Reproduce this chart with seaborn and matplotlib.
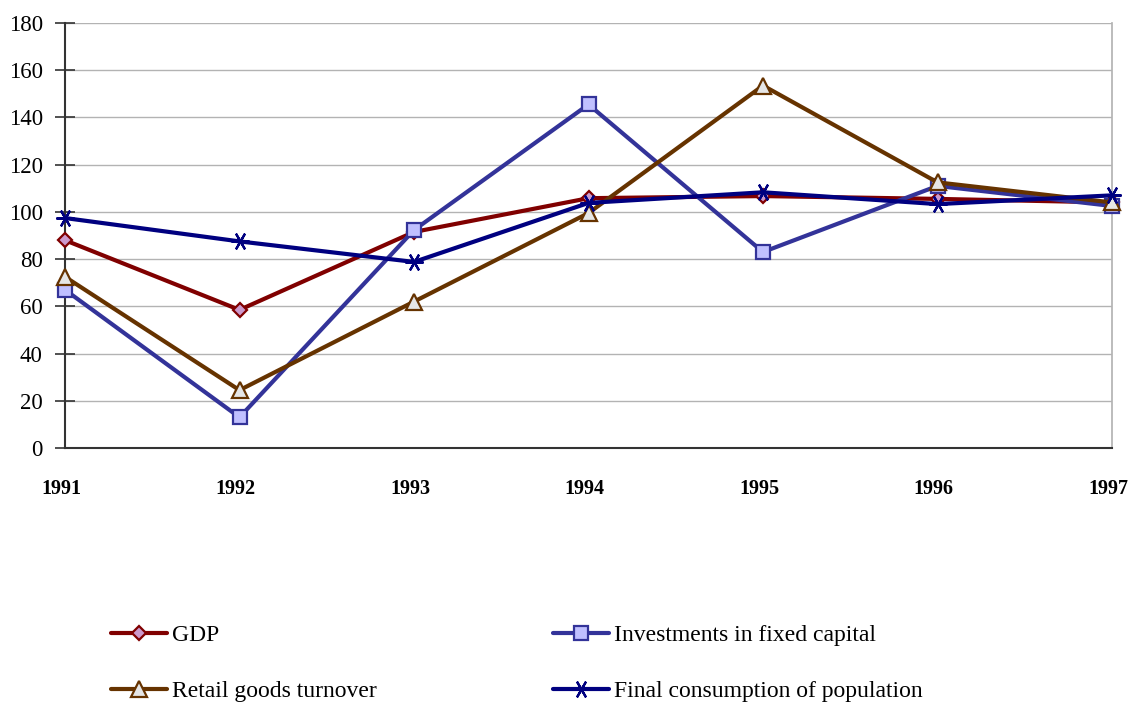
import pandas as pd
import matplotlib.pyplot as plt
import matplotlib.transforms as mtransforms
import seaborn as sns

sns.set_theme(style="white")
plt.rcParams["font.family"] = ["Liberation Serif", "DejaVu Serif"]
plt.rcParams["text.color"] = "black"
plt.rcParams["xtick.color"] = "black"
plt.rcParams["ytick.color"] = "black"

# ── Data ─────────────────────────────────────────────────────────────────────
years = [1991, 1992, 1993, 1994, 1995, 1996, 1997]
gdp = [88, 58.5, 91.5, 105.8, 106.7, 105.5, 104]
investments = [67, 13, 92.3, 145.5, 83, 111, 102.5]
retail = [72.5, 24.5, 62, 99.5, 153.5, 112.5, 104]
consumption = [97.4, 87.5, 78.8, 103.8, 108.3, 103.3, 107]

df = pd.DataFrame({
    "year": years,
    "GDP": gdp,
    "Investments in fixed capital": investments,
    "Retail goods turnover": retail,
    "Final consumption of population": consumption,
})

styles = {
    "GDP": dict(color="#800000", marker="D", mfc="#cc99cc", ms=7.5),
    "Investments in fixed capital": dict(color="#333399", marker="s", mfc="#c0c0ff", ms=10),
    "Retail goods turnover": dict(color="#663300", marker="^", mfc="#e6e6e6", ms=11),
    "Final consumption of population": dict(color="#000080", marker=(6, 2, 90), mfc="#000080", ms=13),
}

fig = plt.figure(figsize=(11.3, 7.07), dpi=100)
ax = fig.add_axes([65 / 1130, 1 - 448 / 707, (1112 - 65) / 1130, (448 - 23) / 707])

handles = {}
for name, st in styles.items():
    sns.lineplot(data=df, x="year", y=name, ax=ax, color=st["color"], lw=3,
                 marker=st["marker"], markersize=st["ms"], markerfacecolor=st["mfc"],
                 markeredgecolor=st["color"], markeredgewidth=1.6, label=name,
                 legend=False, clip_on=False, zorder=3)
    handles[name] = ax.lines[-1]

ax.set_xlim(1991, 1997)
ax.set_ylim(0, 180)
ax.set_yticks(range(0, 181, 20))
ax.set_xticks(years)
ax.set_xticklabels([str(y) for y in years], fontweight="bold", fontsize=14.5)
ax.tick_params(axis="y", labelsize=16.5, direction="inout", length=14, width=1.2,
               color="#333333", left=True, pad=9)
ax.tick_params(axis="x", length=0, pad=22)
# nudge year labels a little to the left, as in the original
shift = mtransforms.ScaledTranslation(-4 / 100, 0, fig.dpi_scale_trans)
for lbl in ax.get_xticklabels():
    lbl.set_transform(lbl.get_transform() + shift)
ax.yaxis.grid(True, color="#b3b3b3", lw=1)
ax.set_axisbelow(True)
ax.set_xlabel("")
ax.set_ylabel("")
ax.spines["top"].set_visible(False)
ax.spines["right"].set_color("#b3b3b3")
ax.spines["left"].set_color("#333333")
ax.spines["bottom"].set_color("#333333")
ax.spines["left"].set_linewidth(1.5)
ax.spines["bottom"].set_linewidth(1.5)

order = ["GDP", "Retail goods turnover", "Investments in fixed capital",
         "Final consumption of population"]
fig.legend([handles[n] for n in order], order, ncol=2, frameon=False,
           loc="center left", bbox_to_anchor=((111 - 9.4) / 1130, 1 - 663.5 / 707),
           borderaxespad=0, fontsize=17, handlelength=2.35, handletextpad=0.25,
           columnspacing=7.45, labelspacing=1.45)

plt.savefig("out.png", dpi=100)
plt.close()
